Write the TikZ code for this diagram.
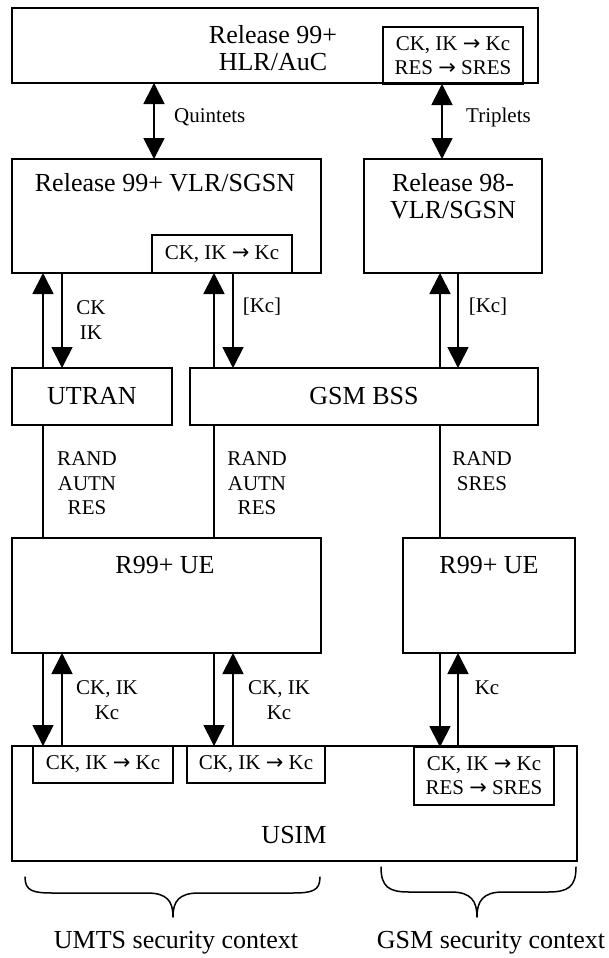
\documentclass[tikz,border=0pt]{standalone}
\usepackage{fontspec}
\setmainfont{Liberation Serif}
\newfontfamily\arrfont{DejaVu Sans}
\newcommand\myarrow{{\arrfont →}}
\usetikzlibrary{arrows.meta}
\tikzset{
  box/.style={draw, line width=1.8pt, inner sep=0pt, outer sep=0pt},
  big/.style={font=\fontsize{26}{27}\selectfont, inner sep=0pt, align=center},
  small/.style={font=\fontsize{21}{24.5}\selectfont, inner sep=0pt, align=center},
  conn/.style={line width=1.8pt},
  tipend/.style={conn, -{Triangle[length=21pt,width=21pt]}},
  dbltip/.style={conn, {Triangle[length=21pt,width=21pt]}-{Triangle[length=21pt,width=21pt]}},
  bracepath/.style={line width=1.5pt, line cap=round, line join=round}
}
\begin{document}
\begin{tikzpicture}[x=1pt, y=-1pt]
\useasboundingbox[fill=white] (0,0) rectangle (608,958);

% boxes
\node[box, minimum width=526pt, minimum height=75pt] (hlr) at (275,45.5) {};
\node[big] (thlr) at (273,48.5) {Release 99+\\HLR/AuC};
\node[box, small, minimum width=140pt, minimum height=57pt, font=\fontsize{21}{24}\selectfont] (hlrin) at (453,55.5) {CK, IK \myarrow\ Kc\\RES \myarrow\ SRES};

\node[box, minimum width=309pt, minimum height=114pt] (vlr99) at (166.5,216) {};
\node[big] (tvlr99) at (165,183) {Release 99+ VLR/SGSN};
\node[box, small, minimum width=140pt, minimum height=38pt] (vlr99in) at (222,254) {CK, IK \myarrow\ Kc};

\node[box, minimum width=178pt, minimum height=114pt] (vlr98) at (453,216) {};
\node[big] (tvlr98) at (453,196) {Release 98-\\VLR/SGSN};

\node[box, big, minimum width=160pt, minimum height=57pt] (utran) at (92,396.5) {UTRAN};
\node[box, big, minimum width=348pt, minimum height=57pt] (bss) at (364,396.5) {GSM BSS};

\node[box, minimum width=309pt, minimum height=115pt] (ue1) at (166.5,595.5) {};
\node[big] (tue1) at (165,565) {R99+ UE};
\node[box, minimum width=172pt, minimum height=115pt] (ue2) at (489,595.5) {};
\node[big] (tue2) at (489,565) {R99+ UE};

\node[box, minimum width=565pt, minimum height=115pt] (usim) at (294.5,803.5) {};
\node[big] (tusim) at (294,835) {USIM};
\node[box, small, minimum width=140pt, minimum height=37pt] (usimin1) at (103,764.5) {CK, IK \myarrow\ Kc};
\node[box, small, minimum width=138pt, minimum height=37pt] (usimin2) at (256,764.5) {CK, IK \myarrow\ Kc};
\node[box, small, minimum width=140pt, minimum height=58pt, font=\fontsize{21}{24}\selectfont] (usimin3) at (484,776) {CK, IK \myarrow\ Kc\\RES \myarrow\ SRES};

% x positions of connectors
\coordinate (xq) at (154,0);
\coordinate (xt) at (442,0);
\coordinate (xa) at (43,0);
\coordinate (xb) at (62,0);
\coordinate (xc) at (214,0);
\coordinate (xd) at (233,0);
\coordinate (xe) at (440,0);
\coordinate (xf) at (458,0);

% connectors
\draw[dbltip] (xq |- hlr.south) -- (xq |- vlr99.north);
\draw[dbltip] (xt |- hlrin.south) -- (xt |- vlr98.north);

\draw[tipend] (xa |- utran.north) -- (xa |- vlr99.south);
\draw[tipend] (xb |- vlr99.south) -- (xb |- utran.north);
\draw[tipend] (xc |- bss.north) -- (xc |- vlr99in.south);
\draw[tipend] (xd |- vlr99in.south) -- (xd |- bss.north);
\draw[tipend] (xe |- bss.north) -- (xe |- vlr98.south);
\draw[tipend] (xf |- vlr98.south) -- (xf |- bss.north);

\draw[conn] (xa |- utran.south) -- (xa |- ue1.north);
\draw[conn] (xc |- bss.south) -- (xc |- ue1.north);
\draw[conn] (xe |- bss.south) -- (xe |- ue2.north);

\draw[tipend] (xa |- ue1.south) -- (xa |- usimin1.north);
\draw[tipend] (xb |- usimin1.north) -- (xb |- ue1.south);
\draw[tipend] (xc |- ue1.south) -- (xc |- usimin2.north);
\draw[tipend] (xd |- usimin2.north) -- (xd |- ue1.south);
\draw[tipend] (xe |- ue2.south) -- (xe |- usimin3.north);
\draw[tipend] (xf |- usimin3.north) -- (xf |- ue2.south);

% connector labels
\node[small, anchor=west] (lq) at (174,117) {Quintets};
\node[small, anchor=west] (lt) at (466,117) {Triplets};
\node[small] (lckik) at (91,320) {CK\\IK};
\node[small] (lkc1) at (262,307) {[Kc]};
\node[small] (lkc2) at (488,307) {[Kc]};
\node[small] (lr1) at (87,483.5) {RAND\\AUTN\\RES};
\node[small] (lr2) at (257,483.5) {RAND\\AUTN\\RES};
\node[small] (lr3) at (482,471) {RAND\\SRES};
\node[small] (lk1) at (107,700) {CK, IK\\Kc};
\node[small] (lk2) at (279,700) {CK, IK\\Kc};
\node[small] (lk3) at (487,688) {Kc};

% braces
\draw[bracepath] (25,877) .. controls (25,891) and (33,893) .. (53,893)
  -- (147,893) .. controls (167,893) and (173,901) .. (173,917)
  .. controls (173,901) and (179,893) .. (199,893)
  -- (292,893) .. controls (312,893) and (320,891) .. (320,877);
\draw[bracepath] (381,867) .. controls (381,887) and (389,892) .. (409,892)
  -- (451,892) .. controls (471,892) and (477,901) .. (477,917)
  .. controls (477,901) and (483,892) .. (503,892)
  -- (548,892) .. controls (568,892) and (576,887) .. (576,867);

\node[big] (lumts) at (176,943) {UMTS security context};
\node[big] (lgsm) at (491,943) {GSM security context};
\end{tikzpicture}
\end{document}
